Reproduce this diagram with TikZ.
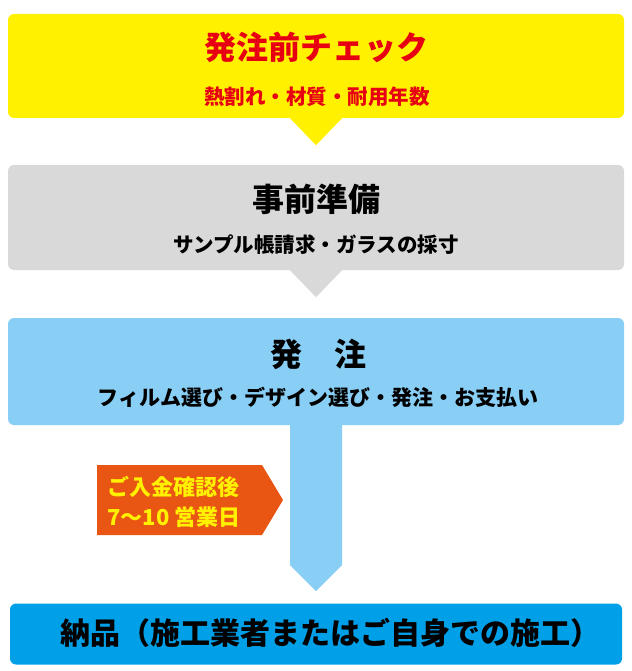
\documentclass[tikz,border=0pt]{standalone}
\usepackage{fontspec}
\usepackage{xcolor}
\usetikzlibrary{positioning}
\setmainfont{Noto Sans CJK JP}
\definecolor{chkyellow}{HTML}{FFF100}
\definecolor{chkred}{HTML}{E60012}
\definecolor{prepgray}{HTML}{D9D9D9}
\definecolor{orderblue}{HTML}{89CFF5}
\definecolor{payorange}{HTML}{E95513}
\definecolor{deliverblue}{HTML}{00A0E9}

\begin{document}
\begin{tikzpicture}[x=1pt, y=-1pt,
        stepbox/.style={rounded corners=6pt, minimum width=616pt, minimum height=105pt, inner sep=0pt},
        headline/.style={font=\bfseries\fontsize{32}{36}\selectfont},
        subline/.style={font=\bfseries\fontsize{20.5}{24}\selectfont}]
        \useasboundingbox (0, 0) rectangle (631, 671);

        % boxes
        \node[stepbox, fill=chkyellow, minimum height=104pt] (check) at (316, 66) {};
        \node[stepbox, fill=prepgray] (prep) at (316, 217.5) {};
        \node[stepbox, fill=orderblue, minimum height=107pt] (order) at (316, 371.5) {};
        \node[stepbox, fill=deliverblue, minimum width=612pt, minimum height=61pt] (deliver) at (316, 634) {};

        % pointers
        \fill[chkyellow] ([xshift=-27pt, yshift=1pt]check.south) -- ++(27, 28) -- ++(27, -28) -- cycle;
        \fill[prepgray] ([xshift=-27pt, yshift=1pt]prep.south) -- ++(27, 28) -- ++(27, -28) -- cycle;
        \fill[orderblue] ([xshift=-26pt, yshift=1pt]order.south) -- ++(0, 141) -- ++(26, 26) -- ++(26, -26) -- ++(0, -141) -- cycle;
        \fill[payorange] (97, 465) -- (262, 465) -- (283, 500) -- (262, 535) -- (97, 535) -- cycle;

        % texts
        \node[headline, text=chkred] (checktitle) at (316, 47) {発注前チェック};
        \node[subline, text=chkred] (checksub) at (317, 97) {熱割れ・材質・耐用年数};
        \node[headline] (preptitle) at (316, 199) {事前準備};
        \node[subline] (prepsub) at (316, 245) {サンプル帳請求・ガラスの採寸};
        \node[headline] (ordertitle) at (318, 354) {発　注};
        \node[subline, font=\bfseries\fontsize{21}{24}\selectfont] (ordersub) at (318, 397) {フィルム選び・デザイン選び・発注・お支払い};
        \node[anchor=west, align=left, text=chkyellow, font=\bfseries\fontsize{22}{30}\selectfont] (paynote) at (104, 502) {ご入金確認後\\7〜10 営業日};
        \node[headline, font=\bfseries\fontsize{30}{34}\selectfont] (delivertitle) at (330, 633) {納品（施工業者またはご自身での施工）};
    \end{tikzpicture}
\end{document}
